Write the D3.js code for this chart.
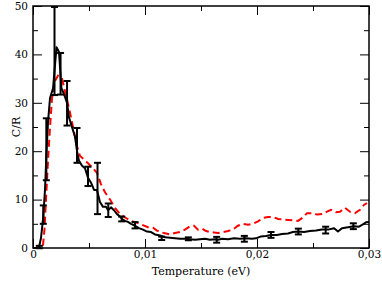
<!DOCTYPE html>
<html>
<head>
<meta charset="utf-8">
<script src="https://cdn.jsdelivr.net/npm/d3@7"></script>
<style>
  body { margin: 0; background: #fff; }
  svg text { font-family: 'DejaVu Serif', serif; fill: #000; }
  .axis text { font-size: 10.5px; }
  .axis path { display: none; }
  .axis line { stroke: #000; stroke-width: 1; }
</style>
</head>
<body>
<div id="chart"></div>
<script>
// simulation, black line (T in eV, C/R)
const blackT = [0, 0.00027, 0.00054, 0.00071, 0.00092, 0.00107, 0.00119, 0.00134, 0.00152, 0.00179,
  0.0021, 0.00232, 0.00254, 0.00277, 0.00304, 0.00321, 0.00348, 0.00375, 0.00393, 0.00411,
  0.00438, 0.00464, 0.00491, 0.00518, 0.00545, 0.00571, 0.00598, 0.00625, 0.00652, 0.0067,
  0.00696, 0.00723, 0.0075, 0.00777, 0.00795, 0.00821, 0.00848, 0.00875, 0.00911, 0.00946,
  0.00982, 0.01018, 0.01054, 0.01089, 0.01134, 0.01179, 0.01223, 0.01268, 0.01313, 0.01357,
  0.01402, 0.01446, 0.01491, 0.01536, 0.0158, 0.01625, 0.01652, 0.01688, 0.01741, 0.01795,
  0.01848, 0.01902, 0.01955, 0.01991, 0.02036, 0.0208, 0.02125, 0.02179, 0.02223, 0.02277,
  0.02321, 0.02366, 0.0242, 0.02473, 0.02527, 0.0258, 0.02634, 0.02688, 0.02723, 0.02759,
  0.02813, 0.02866, 0.02911, 0.02946, 0.02973, 0.03];
const blackC = [0, 0, 0.2, 2, 6.5, 12, 19, 26, 31, 33,
  41.5, 40.5, 33, 31.8, 30, 27, 25, 23, 20, 18,
  17, 16.5, 14.5, 13.5, 12, 12, 9.5, 8.5, 8.5, 7.8,
  8.4, 7.8, 7, 6.5, 6, 5.6, 5.4, 5, 4.6, 4.1,
  3.8, 3.4, 3.3, 2.8, 2.6, 2.2, 2.1, 2.0, 1.9, 1.9,
  1.8, 1.7, 1.8, 1.9, 1.7, 1.8, 1.7, 1.9, 1.8, 2.0,
  1.9, 2.0, 1.9, 2.0, 2.4, 2.5, 2.7, 2.7, 2.9, 3.0,
  3.3, 3.4, 3.3, 3.5, 3.6, 3.8, 3.8, 4.1, 3.4, 4.1,
  4.3, 4.5, 4.4, 4.9, 5.3, 5.4];

// error bars on the black curve
const errT = [0.00056, 0.00092, 0.00119, 0.00192, 0.00246, 0.00304, 0.00393, 0.00491, 0.00576, 0.00672,
  0.00792, 0.00911, 0.01149, 0.01387, 0.0164, 0.01887, 0.02125, 0.02369, 0.02613, 0.0286];
const errC = [0.2, 6.9, 20.4, 40.7, 36, 29.9, 21.2, 14.8, 12.3, 7.8,
  6.0, 4.7, 2.0, 1.9, 1.7, 1.9, 2.7, 3.4, 3.7, 4.5];
const errD = [0.25, 1.9, 6.4, 9.1, 4.3, 4.6, 3.6, 2.0, 5.3, 1.4,
  0.5, 0.65, 0.35, 0.3, 0.6, 0.6, 0.6, 0.6, 0.7, 0.6];

// red dashed curve
const redT = [0.00089, 0.00103, 0.00116, 0.00134, 0.00152, 0.0017, 0.00196, 0.00223, 0.00259, 0.00295,
  0.0033, 0.00357, 0.00393, 0.0042, 0.00455, 0.00491, 0.00536, 0.00571, 0.00607, 0.00643,
  0.00688, 0.00732, 0.00777, 0.0083, 0.00875, 0.0092, 0.00973, 0.01027, 0.01071, 0.01107,
  0.01152, 0.01188, 0.01223, 0.01268, 0.01313, 0.01357, 0.01402, 0.01438, 0.01473, 0.01509,
  0.01545, 0.0158, 0.01616, 0.01652, 0.01696, 0.01741, 0.01786, 0.0183, 0.01875, 0.0192,
  0.01964, 0.02009, 0.02054, 0.02098, 0.02143, 0.02188, 0.02232, 0.02277, 0.02321, 0.02366,
  0.02411, 0.02446, 0.02491, 0.02536, 0.0258, 0.02625, 0.02661, 0.02705, 0.02741, 0.02786,
  0.0283, 0.02875, 0.0292, 0.02955, 0.02982];
const redC = [0.5, 4, 10, 18, 25, 31, 34.5, 35.6, 35, 31.5,
  28, 25, 21, 19, 18.3, 17.5, 16.5, 15.5, 13.2, 11.5,
  10, 8.3, 7, 6.2, 5.6, 5.3, 4.8, 4.3, 4.2, 3.6,
  3.2, 3.0, 2.8, 3.1, 3.3, 3.8, 4.5, 4.6, 3.8, 4.0,
  3.5, 3.3, 3.2, 3.1, 3.3, 3.5, 3.8, 4.6, 5.0, 4.8,
  5.0, 5.5, 6.2, 6.4, 6.4, 6.0, 5.9, 5.8, 5.7, 5.6,
  6.3, 7.2, 7.2, 6.9, 7.0, 7.5, 7.9, 7.4, 7.5, 8.3,
  7.5, 7.2, 7.9, 8.9, 9.3];

const xMajor = [0, 0.01, 0.02, 0.03];
const xMinor = [0.005, 0.015, 0.025];
const yMajor = [0, 10, 20, 30, 40, 50];
const yMinor = [5, 15, 25, 35, 45];

const width = 382, height = 283;
const margin = {top: 6, right: 13, bottom: 35, left: 33};

const x = d3.scaleLinear().domain([0, 0.03]).range([margin.left, width - margin.right]);
const y = d3.scaleLinear().domain([0, 50]).range([height - margin.bottom, margin.top]);

const svg = d3.select('#chart').append('svg')
  .attr('width', width)
  .attr('height', height);

const fmtX = d => d === 0 ? '0' : d3.format('.2f')(d).replace('.', ',');

// d3 puts sans-serif on the axis group, drop it so the css font applies
function addAxis(axis, tx, ty) {
  return svg.append('g').attr('class', 'axis')
    .attr('transform', `translate(${tx},${ty})`)
    .call(axis)
    .attr('font-family', null)
    .attr('font-size', null);
}

// major + minor ticks, pointing inward on all four sides
addAxis(d3.axisBottom(x).tickValues(xMajor).tickSize(-9).tickPadding(3).tickFormat(fmtX), 0, y(0));
addAxis(d3.axisBottom(x).tickValues(xMinor).tickSize(-5).tickFormat(''), 0, y(0));
addAxis(d3.axisTop(x).tickValues(xMajor).tickSize(-9).tickFormat(''), 0, y(50));
addAxis(d3.axisTop(x).tickValues(xMinor).tickSize(-5).tickFormat(''), 0, y(50));

addAxis(d3.axisLeft(y).tickValues(yMajor).tickSize(-9).tickPadding(5).tickFormat(d3.format('d')), x(0), 0);
addAxis(d3.axisLeft(y).tickValues(yMinor).tickSize(-5).tickFormat(''), x(0), 0);
addAxis(d3.axisRight(y).tickValues(yMajor).tickSize(-9).tickFormat(''), x(0.03), 0);
addAxis(d3.axisRight(y).tickValues(yMinor).tickSize(-5).tickFormat(''), x(0.03), 0);

// frame
svg.append('rect')
  .attr('x', x(0))
  .attr('y', y(50))
  .attr('width', x(0.03) - x(0))
  .attr('height', y(0) - y(50))
  .attr('fill', 'none')
  .attr('stroke', '#000')
  .attr('stroke-width', 1.5);

const line = d3.line().x(d => x(d[0])).y(d => y(d[1]));

// red dashed
svg.append('path')
  .attr('d', line(redT.map((t, i) => [t, redC[i]])))
  .attr('fill', 'none')
  .attr('stroke', '#ff0000')
  .attr('stroke-width', 2)
  .attr('stroke-dasharray', '7,4');

// black line
svg.append('path')
  .attr('d', line(blackT.map((t, i) => [t, blackC[i]])))
  .attr('fill', 'none')
  .attr('stroke', '#000')
  .attr('stroke-width', 2)
  .attr('stroke-linejoin', 'round');

// error bars
const bars = svg.append('g')
  .attr('stroke', '#000')
  .attr('stroke-width', 2);
errT.forEach((t, i) => {
  const cx = x(t), lo = y(errC[i] - errD[i]), hi = y(errC[i] + errD[i]);
  bars.append('line').attr('x1', cx).attr('x2', cx).attr('y1', lo).attr('y2', hi);
  bars.append('line').attr('x1', cx - 3.5).attr('x2', cx + 3.5).attr('y1', lo).attr('y2', lo);
  bars.append('line').attr('x1', cx - 3.5).attr('x2', cx + 3.5).attr('y1', hi).attr('y2', hi);
});

// axis titles
svg.append('text')
  .attr('x', (x(0) + x(0.03)) / 2)
  .attr('y', 275)
  .attr('text-anchor', 'middle')
  .style('font-size', '11px')
  .text('Temperature (eV)');

svg.append('text')
  .attr('transform', `translate(20,${(y(0) + y(50)) / 2}) rotate(-90)`)
  .attr('text-anchor', 'middle')
  .style('font-size', '11px')
  .text('C/R');
</script>
</body>
</html>
